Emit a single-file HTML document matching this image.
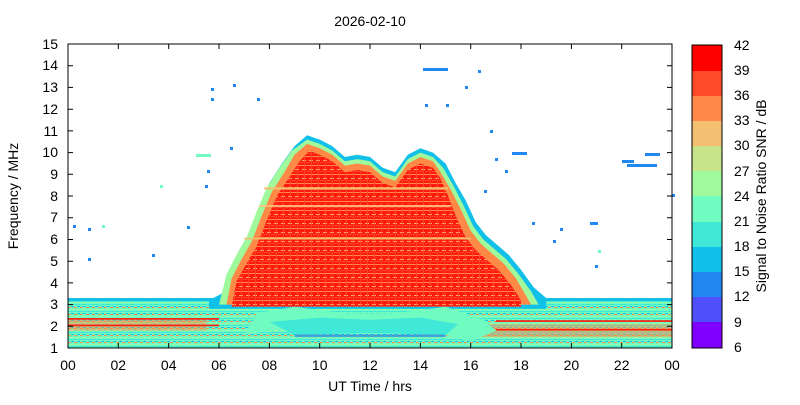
<!DOCTYPE html>
<html><head><style>
body{margin:0;background:#fff;font-family:"Liberation Sans",sans-serif}
svg text{font-family:"Liberation Sans",sans-serif;font-size:14px;fill:#000}
</style></head><body>
<svg width="800" height="400" xmlns="http://www.w3.org/2000/svg">
<defs>
<pattern id="stripe" width="7" height="9" patternUnits="userSpaceOnUse" patternTransform="scale(0.03973,0.04606)">
<rect width="7" height="9" fill="#ff1a10"/>
<rect y="2" width="7" height="1" fill="#ff8a48"/>
<rect y="5" width="4" height="1" fill="#ff4a2a"/>
<rect x="3" y="7" width="4" height="1" fill="#f2c070"/>
<rect x="5" y="0" width="1" height="9" fill="#ff4a2a"/>
</pattern>
<pattern id="base" width="6" height="7" patternUnits="userSpaceOnUse" patternTransform="scale(0.03973,0.04606)">
<rect width="6" height="7" fill="#70fcc0"/>
<rect y="1" width="6" height="1" fill="#40e8d8"/>
<rect x="2" y="3" width="4" height="1" fill="#a0fa9c"/>
<rect x="0" y="5" width="3" height="1" fill="#ff8a48"/>
<rect x="3" y="6" width="3" height="1" fill="#10c0e8"/>
</pattern>
</defs>
<text x="370" y="26" text-anchor="middle">2026-02-10</text>
<g transform="translate(68,348) scale(25.17,-21.71)">
<rect x="0" y="0" width="24" height="2.3" fill="url(#base)"/>
<rect x="0" y="2.15" width="24" height="0.15" fill="#10c0e8"/>
<rect x="0" y="0.8" width="5.5" height="0.5" fill="#ff8a48" opacity="0.5"/>
<rect x="16" y="0.5" width="8" height="0.6" fill="#ff8a48" opacity="0.5"/>
<rect x="0" y="1.3" width="6" height="0.08" fill="#ff2010"/>
<rect x="0" y="1.0" width="6" height="0.08" fill="#ff2010"/>
<rect x="17" y="1.2" width="7" height="0.08" fill="#ff2010"/>
<rect x="17" y="0.8" width="7" height="0.08" fill="#ff2010"/>
<polygon fill="#10c0e8" points="5.6,2.2 6.1,2.5 6.4,3.6 6.8,4.5 7.2,5.3 7.6,6.5 8,7.6 8.5,8.5 9,9.3 9.5,9.8 10,9.6 10.5,9.3 11,8.8 11.5,8.9 12,8.8 12.5,8.3 13,8.1 13.5,8.9 14,9.2 14.5,9 15,8.5 15.4,7.6 15.8,6.8 16.2,5.8 16.6,5.2 17,4.8 17.5,4.3 18,3.6 18.5,2.8 19,2.3 19,1.8 5.6,1.8"/>
<polygon fill="#a0fa9c" points="6,2 6.3,3.4 6.7,4.3 7.1,5.1 7.5,6.3 7.9,7.4 8.4,8.3 8.9,9.1 9.5,9.6 10,9.4 10.5,9.1 11,8.6 11.5,8.7 12,8.6 12.5,8.1 13,7.9 13.5,8.7 14,9 14.5,8.8 14.9,8.3 15.3,7.5 15.7,6.6 16.1,5.6 16.5,5 16.9,4.6 17.4,4.1 17.9,3.4 18.4,2.6 18.7,2"/>
<polygon fill="#ff8a48" points="6.3,2 6.5,3.2 6.9,4.1 7.3,4.9 7.7,6.1 8.1,7.2 8.6,8.1 9,8.9 9.5,9.4 10,9.2 10.5,8.9 11,8.4 11.5,8.5 12,8.4 12.5,7.9 13,7.7 13.5,8.5 14,8.8 14.5,8.6 14.8,8.1 15.2,7.3 15.6,6.4 16,5.4 16.4,4.8 16.8,4.4 17.3,3.9 17.8,3.2 18.2,2.4 18.4,2"/>
<polygon fill="url(#stripe)" points="6.5,1.9 6.7,3.1 7.1,3.9 7.5,4.7 7.9,5.9 8.3,7 8.8,7.9 9.2,8.6 9.6,9.1 10,8.9 10.5,8.6 11,8.1 11.5,8.2 12,8.1 12.5,7.6 13,7.4 13.5,8.2 14,8.5 14.5,8.3 14.8,7.8 15.1,7 15.4,6.1 15.8,5.1 16.2,4.5 16.6,4.1 17.1,3.6 17.6,2.9 18,2.2 18,1.9"/>
<rect x="7.8" y="7.3" width="7.3" height="0.1" fill="#f2c070"/>
<rect x="7.6" y="6.5" width="7.6" height="0.08" fill="#ffc080"/>
<rect x="7" y="5" width="9" height="0.08" fill="#f2c070"/>
<polygon fill="#70fcc0" points="7.5,1.6 9,1.9 11,1.6 13,1.6 15,1.9 16.5,1.3 17,0.8 16,0.3 14,0.9 12,0.9 10,1 8.5,0.9 7,0.6"/>
<polygon fill="#40e8d8" points="8,1.2 10,1.4 12,1.3 14,1.4 15.5,1.1 15,0.6 12,0.7 9,0.6"/>
<rect x="9" y="0.5" width="6" height="0.12" fill="#2088f0" opacity="0.7"/>
</g>
<g fill="#2088f0">
<rect x="73" y="225" width="3" height="3"/><rect x="88" y="228" width="3" height="3"/><rect x="88" y="258" width="3" height="3"/>
<rect x="211" y="88" width="3" height="3"/><rect x="211" y="98" width="3" height="3"/><rect x="233" y="84" width="3" height="3"/>
<rect x="257" y="98" width="3" height="3"/><rect x="207" y="170" width="3" height="3"/><rect x="230" y="147" width="3" height="3"/>
<rect x="423" y="68" width="25" height="3"/><rect x="425" y="104" width="3" height="3"/><rect x="446" y="104" width="3" height="3"/>
<rect x="465" y="86" width="3" height="3"/><rect x="478" y="70" width="3" height="3"/><rect x="490" y="130" width="3" height="3"/>
<rect x="495" y="158" width="3" height="3"/><rect x="505" y="170" width="3" height="3"/><rect x="512" y="152" width="15" height="3"/>
<rect x="484" y="190" width="3" height="3"/><rect x="532" y="222" width="3" height="3"/><rect x="553" y="240" width="3" height="3"/>
<rect x="560" y="228" width="3" height="3"/><rect x="590" y="222" width="8" height="3"/><rect x="622" y="160" width="12" height="3"/>
<rect x="627" y="164" width="30" height="3"/><rect x="645" y="153" width="15" height="3"/><rect x="672" y="194" width="3" height="3"/>
<rect x="152" y="254" width="3" height="3"/><rect x="187" y="226" width="3" height="3"/><rect x="595" y="265" width="3" height="3"/>
<rect x="205" y="185" width="3" height="3"/>
</g>
<g fill="#70fcc0"><rect x="196" y="154" width="15" height="3"/><rect x="102" y="225" width="3" height="3"/><rect x="160" y="185" width="3" height="3"/><rect x="598" y="250" width="3" height="3"/></g>
<rect x="68" y="44" width="604" height="304" fill="none" stroke="#000"/>
<g stroke="#000">
<path d="M68,348v-5M118.3,348v-5M168.7,348v-5M219,348v-5M269.4,348v-5M319.7,348v-5M370,348v-5M420.4,348v-5M470.7,348v-5M521,348v-5M571.4,348v-5M621.7,348v-5M672,348v-5
M68,44v5M118.3,44v5M168.7,44v5M219,44v5M269.4,44v5M319.7,44v5M370,44v5M420.4,44v5M470.7,44v5M521,44v5M571.4,44v5M621.7,44v5M672,44v5"/>
<path d="M68,326.3h5M68,304.6h5M68,282.9h5M68,261.2h5M68,239.5h5M68,217.7h5M68,196h5M68,174.3h5M68,152.6h5M68,130.9h5M68,109.2h5M68,87.4h5M68,65.7h5
M672,326.3h-5M672,304.6h-5M672,282.9h-5M672,261.2h-5M672,239.5h-5M672,217.7h-5M672,196h-5M672,174.3h-5M672,152.6h-5M672,130.9h-5M672,109.2h-5M672,87.4h-5M672,65.7h-5"/>
</g>
<g text-anchor="end">
<text x="58" y="353">1</text><text x="58" y="331">2</text><text x="58" y="309">3</text><text x="58" y="288">4</text><text x="58" y="266">5</text><text x="58" y="244">6</text><text x="58" y="222">7</text><text x="58" y="201">8</text><text x="58" y="179">9</text><text x="58" y="157">10</text><text x="58" y="136">11</text><text x="58" y="114">12</text><text x="58" y="92">13</text><text x="58" y="70">14</text><text x="58" y="49">15</text>
</g>
<g text-anchor="middle">
<text x="68" y="370">00</text><text x="118.3" y="370">02</text><text x="168.7" y="370">04</text><text x="219" y="370">06</text><text x="269.4" y="370">08</text><text x="319.7" y="370">10</text><text x="370" y="370">12</text><text x="420.4" y="370">14</text><text x="470.7" y="370">16</text><text x="521" y="370">18</text><text x="571.4" y="370">20</text><text x="621.7" y="370">22</text><text x="672" y="370">00</text>
</g>
<text x="370" y="391" text-anchor="middle">UT Time / hrs</text>
<text transform="translate(18,196) rotate(-90)" text-anchor="middle">Frequency / MHz</text>
<g>
<rect x="692" y="45" width="30" height="26" fill="#ff0000"/>
<rect x="692" y="71" width="30" height="25" fill="#ff4a2a"/>
<rect x="692" y="96" width="30" height="25" fill="#ff8a48"/>
<rect x="692" y="121" width="30" height="25" fill="#f2c070"/>
<rect x="692" y="146" width="30" height="25" fill="#c8e48a"/>
<rect x="692" y="171" width="30" height="25" fill="#a0fa9c"/>
<rect x="692" y="196" width="30" height="26" fill="#70fcc0"/>
<rect x="692" y="222" width="30" height="25" fill="#40e8d8"/>
<rect x="692" y="247" width="30" height="25" fill="#10c0e8"/>
<rect x="692" y="272" width="30" height="25" fill="#2088f0"/>
<rect x="692" y="297" width="30" height="25" fill="#5050fa"/>
<rect x="692" y="322" width="30" height="26" fill="#8000ff"/>
<rect x="692" y="45" width="30" height="303" fill="none" stroke="#000"/>
</g>
<g>
<text x="734" y="50">42</text><text x="734" y="75">39</text><text x="734" y="100">36</text><text x="734" y="125">33</text><text x="734" y="150">30</text><text x="734" y="176">27</text><text x="734" y="201">24</text><text x="734" y="226">21</text><text x="734" y="251">18</text><text x="734" y="276">15</text><text x="734" y="301">12</text><text x="734" y="327">9</text><text x="734" y="352">6</text>
</g>
<text transform="translate(766,196) rotate(-90)" text-anchor="middle">Signal to Noise Ratio SNR / dB</text>
</svg>
</body></html>
